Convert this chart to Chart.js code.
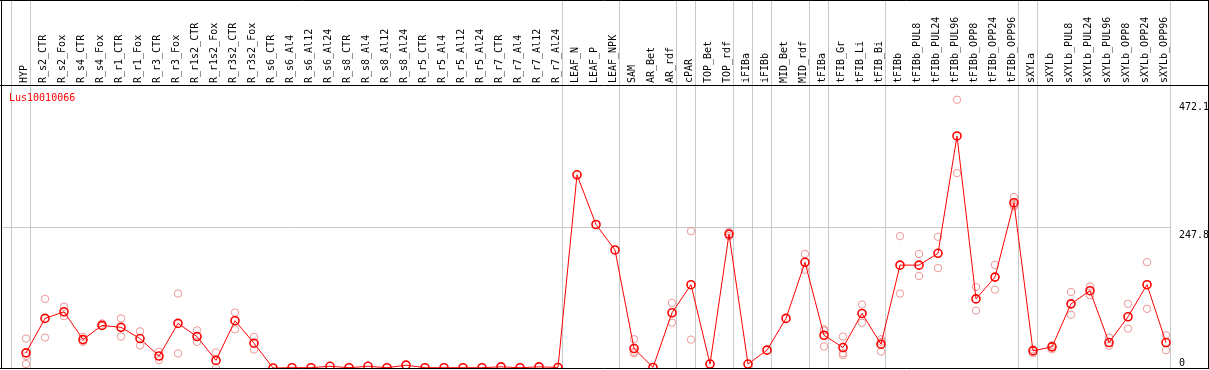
<!DOCTYPE html>
<html>
<head>
<meta charset="utf-8">
<script src="https://cdn.jsdelivr.net/npm/chart.js@4.4.1/dist/chart.umd.min.js"></script>
<style>
  html, body { margin: 0; padding: 0; background: #fff; }
  #wrap { width: 1209px; height: 370px; }
</style>
</head>
<body>
<div id="wrap"><canvas id="chart" width="1209" height="370"></canvas></div>
<script>
// sample names along the top header
const sampleLabels = [
  'HYP', 'R_s2_CTR', 'R_s2_Fox', 'R_s4_CTR', 'R_s4_Fox', 'R_r1_CTR', 'R_r1_Fox',
  'R_r3_CTR', 'R_r3_Fox', 'R_r1s2_CTR', 'R_r1s2_Fox', 'R_r3s2_CTR', 'R_r3s2_Fox',
  'R_s6_CTR', 'R_s6_Al4', 'R_s6_Al12', 'R_s6_Al24', 'R_s8_CTR', 'R_s8_Al4', 'R_s8_Al12',
  'R_s8_Al24', 'R_r5_CTR', 'R_r5_Al4', 'R_r5_Al12', 'R_r5_Al24', 'R_r7_CTR', 'R_r7_Al4',
  'R_r7_Al12', 'R_r7_Al24', 'LEAF_N', 'LEAF_P', 'LEAF_NPK', 'SAM', 'AR_Bet', 'AR_rdf',
  'cPAR', 'TOP_Bet', 'TOP_rdf', 'iFIBa', 'iFIBb', 'MID_Bet', 'MID_rdf', 'tFIBa',
  'tFIB_Gr', 'tFIB_Li', 'tFIB_Bi', 'tFIBb', 'tFIBb_PUL8', 'tFIBb_PUL24', 'tFIBb_PUL96',
  'tFIBb_OPP8', 'tFIBb_OPP24', 'tFIBb_OPP96', 'sXYLa', 'sXYLb', 'sXYLb_PUL8',
  'sXYLb_PUL24', 'sXYLb_PUL96', 'sXYLb_OPP8', 'sXYLb_OPP24', 'sXYLb_OPP96'
];

// mean expression per sample
const meanValues = [
  26.7, 87.3, 98.9, 50, 75, 71.5, 51.8, 21, 78.5, 55.3, 13.4, 83.2, 43.6,
  0, 0.5, 0.5, 3, 0.5, 3, 0.5, 5, 0.5, 0.5, 0.5, 0.5, 2, 0.5, 2, 1,
  340, 252.5, 207.7, 34.3, 1, 97.2, 146.6, 7, 235.6, 7, 31.4, 87.3, 186,
  57.6, 36, 96, 41.9, 181, 181, 201.8, 408.3, 121.6, 160, 290.9,
  30.2, 37.2, 112.9, 136, 44.8, 90.2, 146.6, 44.8
];

// individual replicates (null = no replicate shown)
const rep1 = [
  51.8, 121.6, 108, 54.7, 78.5, 87.3, 64.6, 28.5, 131, 66.3, 27.4, 97.7, 54.6,
  null, null, null, null, null, null, null, null, null, null, null, null, null, null, null, null,
  null, null, null, 50.6, null, 114.6, 240.8, null, 239.6, null, null, null, 200.7,
  68, 55.3, 111.7, 50.6, 232, 200.7, 230.9, 472.1, 142.5, 181.5, 300.7,
  33, 40, 133.8, 143.6, 53.6, 112.9, 186.2, 57.6
];
const rep2 = [
  7, 53.6, 91.3, 46, 73.8, 55.3, 39.6, 14, 25.6, 46, 0, 68, 32.6,
  null, null, null, null, null, null, null, null, null, null, null, null, null, null, null, null,
  null, null, null, 28.5, null, 79.7, 50, null, 232, null, null, null, 172.8,
  66, 26, 79.7, 46, 131, 162, 175.7, 343, 101, 137.9, 284.4,
  26, 33, 93.7, 128, 39, 69.3, 104.2, 31.4
];
const rep3 = [
  21, null, null, null, null, null, null, null, null, null, null, null, null,
  null, null, null, null, null, null, null, null, null, null, null, null, null, null, null, null,
  null, null, null, 26, null, null, null, null, null, null, null, null, null,
  37.9, 22.7, null, 29, null, null, null, null, null, null, 287,
  null, null, null, null, null, null, null, null
];

// samples after which a group separator is drawn
const groupEnds = [-1, 0, 28, 31, 34, 35, 37, 38, 39, 41, 42, 45, 52, 53, 60];
const yTickValues = [0, 247.8, 472.1];
const geneName = 'Lus10010066';

const monoFont = { family: '"DejaVu Sans Mono", monospace', size: 10 };
const sepValues = groupEnds.map(i => i + 0.25);

function toPoints(arr) {
  return arr.map((v, i) => (v == null ? null : { x: i, y: v })).filter(p => p);
}

const framePlugin = {
  id: 'frame',
  afterDraw(chart) {
    const { ctx, chartArea, scales } = chart;
    const w = chart.width;
    ctx.save();
    ctx.font = '10px "DejaVu Sans Mono", monospace';
    ctx.textAlign = 'left';
    ctx.textBaseline = 'alphabetic';
    ctx.fillStyle = '#000';
    yTickValues.forEach(v => {
      const py = scales.y.getPixelForValue(v);
      ctx.fillText(String(v), chartArea.right + 8, v === 0 ? py - 2 : py + 10.5);
    });
    ctx.fillStyle = '#ff0000';
    ctx.fillText(geneName, chartArea.left + 8, chartArea.top + 15.5);

    ctx.strokeStyle = '#000';
    ctx.lineWidth = 1;
    ctx.beginPath();
    ctx.moveTo(0, 0.5); ctx.lineTo(w, 0.5);
    ctx.moveTo(0, chartArea.top + 0.5); ctx.lineTo(w, chartArea.top + 0.5);
    ctx.moveTo(0, chartArea.bottom + 0.5); ctx.lineTo(w, chartArea.bottom + 0.5);
    ctx.moveTo(1.5, 0); ctx.lineTo(1.5, chartArea.bottom + 1);
    ctx.moveTo(w - 0.5, 0); ctx.lineTo(w - 0.5, chartArea.bottom + 1);
    ctx.stroke();
    ctx.restore();
  }
};

new Chart(document.getElementById('chart'), {
  type: 'line',
  data: {
    datasets: [
      {
        data: toPoints(meanValues),
        borderColor: '#ff0000',
        borderWidth: 1,
        pointRadius: 4,
        pointBorderWidth: 1.6,
        pointBorderColor: '#ff0000',
        pointBackgroundColor: 'rgba(0,0,0,0)',
        tension: 0
      },
      ...[rep1, rep2, rep3].map(r => ({
        data: toPoints(r),
        showLine: false,
        pointRadius: 3.7,
        pointBorderWidth: 1,
        pointBorderColor: 'rgb(236,150,150)',
        pointBackgroundColor: 'rgba(0,0,0,0)'
      }))
    ]
  },
  options: {
    responsive: false,
    animation: false,
    layout: { autoPadding: false, padding: { left: 1, bottom: 2 } },
    plugins: { legend: { display: false }, tooltip: { enabled: false } },
    scales: {
      x: {
        type: 'linear',
        position: 'top',
        min: -25 / 19,
        max: -25 / 19 + 1170 / 19,
        afterBuildTicks: s => {
          const vals = sampleLabels.map((_, i) => i).concat(sepValues).sort((a, b) => a - b);
          s.ticks = vals.map(v => ({ value: v }));
        },
        afterFit: s => {
          s.height = 85;
          s.paddingLeft = 0;
          s.paddingRight = 0;
        },
        border: { display: false },
        grid: {
          color: c => (c.tick && !Number.isInteger(c.tick.value) ? '#c8c8c8' : 'rgba(0,0,0,0)'),
          lineWidth: 1,
          tickLength: 85
        },
        ticks: {
          autoSkip: false,
          minRotation: 90,
          maxRotation: 90,
          padding: -83,
          labelOffset: 10.5,
          color: '#000',
          font: monoFont,
          callback: v => (Number.isInteger(v) ? sampleLabels[v] : '')
        }
      },
      y: {
        position: 'right',
        min: 0,
        max: 498,
        afterBuildTicks: s => { s.ticks = yTickValues.map(v => ({ value: v })); },
        afterFit: s => { s.width = 38; },
        border: { display: false },
        grid: {
          color: c => (c.tick && c.tick.value === 247.8 ? '#c8c8c8' : 'rgba(0,0,0,0)'),
          drawTicks: false
        },
        ticks: { display: false }
      }
    }
  },
  plugins: [framePlugin]
});
</script>
</body>
</html>
